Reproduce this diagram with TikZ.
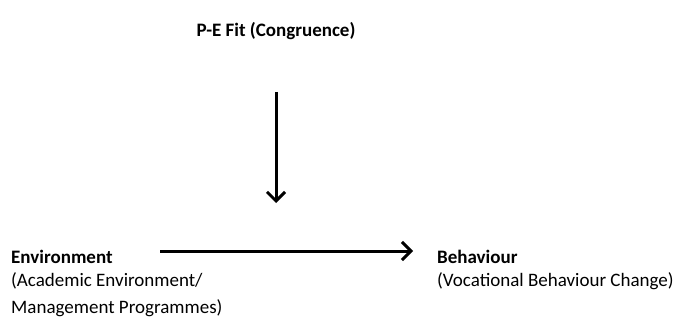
\documentclass[tikz,border=0pt]{standalone}
\usepackage{fontspec}
\setmainfont{Carlito}
\usetikzlibrary{arrows.meta}
\begin{document}
\begin{tikzpicture}[x=1pt,y=-1pt,
  lbl/.style={inner sep=0pt,anchor=base west,font=\fontsize{19}{27}\selectfont},
  head/.style={lbl,font=\fontsize{19}{27}\selectfont\bfseries},
  arr/.style={line width=3pt,-{Straight Barb[length=9pt,width=18pt,line width=3pt]}}]
\useasboundingbox (0,0) rectangle (680,326);
\node[head,anchor=base] (pe) at (276,37) {P-E Fit (Congruence)};
\node[head] (env) at (11,263) {Environment};
\node[lbl,align=left,anchor=north west] (envsub) at (11,272) {(Academic Environment/\\Management Programmes)};
\node[head] (beh) at (437,263) {Behaviour};
\node[lbl,anchor=north west] (behsub) at (437,272) {(Vocational Behaviour Change)};
\coordinate (vtop) at (276,92);
\coordinate (vbot) at (276,203);
\coordinate (hl) at (160,251);
\coordinate (hr) at (413,251);
\draw[arr] (vtop) -- (vbot);
\draw[arr] (hl) -- (hr);
\end{tikzpicture}
\end{document}
